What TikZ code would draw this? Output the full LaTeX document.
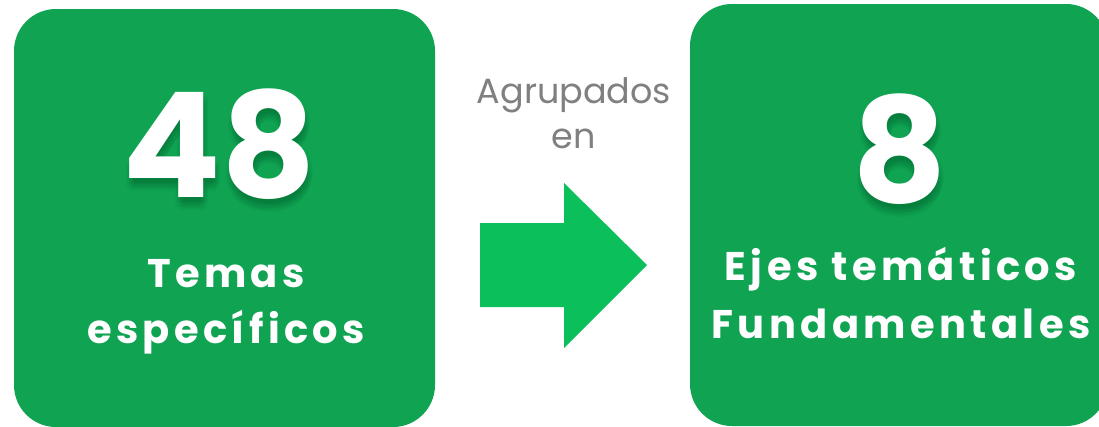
\documentclass[tikz,border=0pt]{standalone}
\usepackage{fontspec}
\setmainfont{Poppins}
\newfontfamily\spacedfont[LetterSpace=11]{Poppins}
\usetikzlibrary{positioning}

\definecolor{boxgreen}{HTML}{0FA352}
\definecolor{arrowgreen}{HTML}{0BBF5A}
\definecolor{shadegreen}{HTML}{05602F}
\definecolor{labelgrey}{HTML}{808080}

\begin{document}
\begin{tikzpicture}[x=1pt, y=-1pt,
 bigbox/.style = {fill=boxgreen, rectangle, rounded corners=42pt, inner sep=0pt},
 number/.style = {text=white, font=\fontsize{146}{150}\selectfont\bfseries, anchor=base, inner sep=0pt},
 numshade/.style = {text=shadegreen, opacity=0.07, font=\fontsize{146}{150}\selectfont\bfseries, anchor=base, inner sep=0pt},
 caption/.style = {text=white, font=\spacedfont\fontsize{40}{48}\selectfont\bfseries, anchor=base, inner sep=0pt},
 note/.style = {text=labelgrey, font=\fontsize{35}{42}\selectfont, anchor=base, inner sep=0pt},
                        ]
    \useasboundingbox (0,0) rectangle (1099,426);
    \fill[white] (0,0) rectangle (1099,426);

    \node [bigbox, minimum width=421pt, minimum height=418pt] (temas) at (224.5,218) {};
    \node [bigbox, minimum width=418pt, minimum height=422pt] (ejes)  at (899,215) {};

%% soft shadow of the numbers
    \foreach \dx/\dy in {0/4,2/6,4/8,-2/6,0/9,3/11,-3/10,5/5,1/13} {
        \node [numshade] at (219+\dx,197+\dy) {48};
        \node [numshade] at (900+\dx,202+\dy) {8};
    }

    \node [number]  (num48)  at (219,197)  {48};
    \node [number]  (num8)   at (900,202)  {8};
    \node [caption] (temasA) at (226,287) {Temas};
    \node [caption] (temasB) at (226,343) {específicos};
    \node [caption] (ejesA)  at (901,280)  {Ejes temáticos};
    \node [caption] (ejesB)  at (901,338)  {Fundamentales};

    \node [note] (agrup) at (574,103) {Agrupados};
    \node [note] (en)    at (574,148) {en};

%% arrow
    \coordinate (tail) at (480,265);
    \fill[arrowgreen] (tail) ++(0,-42) -- ++(84,0) -- ++(0,-40) -- (647,265)
        -- (564,348) -- ++(0,-41) -- (480,307) -- cycle;
\end{tikzpicture}
\end{document}
